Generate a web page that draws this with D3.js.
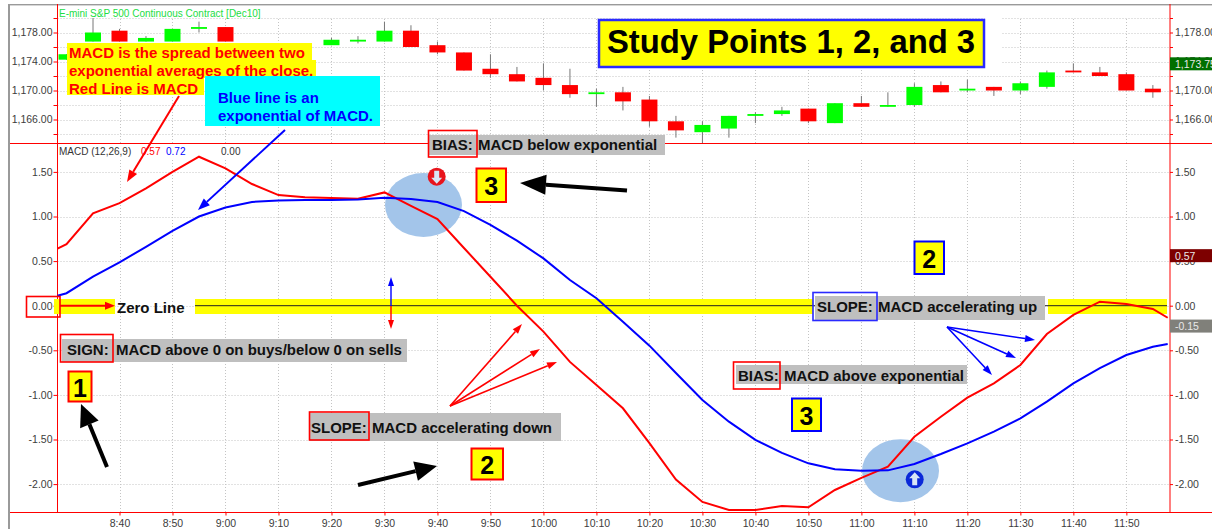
<!DOCTYPE html>
<html><head><meta charset="utf-8">
<style>html,body{margin:0;padding:0;background:#fff}svg{display:block}text{font-family:"Liberation Sans",Arial,sans-serif}</style>
<script src="https://cdn.jsdelivr.net/npm/d3@7/dist/d3.min.js"></script></head><body>
<svg id="c" width="1212" height="529"></svg>
<script>
// ---- data ----
const chartTitle = "E-mini S&P 500 Continuous Contract [Dec10]";
const candleTimes = ["8:30","8:35","8:40","8:45","8:50","8:55","9:00","9:20","9:25","9:30","9:35","9:40","9:45","9:50","9:55","10:00","10:05","10:10","10:15","10:20","10:25","10:30","10:35","10:40","10:45","10:50","10:55","11:00","11:05","11:10","11:15","11:20","11:25","11:30","11:35","11:40","11:45","11:50","11:55"];
const opens  = [1174.25,1176.75,1178.25,1176.75,1176.75,1178.5,1178.75,1176.25,1176.75,1176.75,1178.25,1176.25,1175.25,1173,1172.25,1171.75,1170.75,1169.5,1169.75,1168.75,1165.75,1164.25,1164.75,1166.5,1166.75,1167.5,1165.5,1168.25,1167.75,1168,1170.75,1170,1170.5,1170,1170.5,1172.75,1172.5,1172.25,1170.25];
const highs  = [1175,1180,1178.5,1177.5,1178.5,1179.5,1178.75,1177.25,1177.5,1179.5,1179,1176.75,1175.25,1175,1173.25,1173.75,1173,1170.25,1170.5,1169.25,1166.5,1165.75,1166.5,1167,1167.75,1167.5,1168.25,1169.25,1169.75,1171,1171.25,1171.5,1170.5,1171.25,1172.75,1173.75,1173.25,1172.5,1170.75];
const lows   = [1174.25,1176.75,1176.75,1176.75,1176.75,1178,1176.75,1176.25,1176.5,1176.75,1176,1175,1172.75,1171.75,1171.25,1170,1169,1167.75,1167.25,1165,1163.5,1162.75,1163.5,1165.5,1166.5,1165.5,1165.5,1167.75,1167.75,1167.75,1169.75,1169.75,1169.25,1169.5,1170.25,1172.5,1172,1170,1169];
const closes = [1175,1178,1176.75,1177.25,1178.5,1178.75,1176.75,1177,1177,1178.25,1176,1175.25,1172.75,1172.25,1171.25,1170.75,1169.5,1169.75,1168.5,1165.75,1164.5,1165.25,1166.5,1166.75,1167.25,1165.75,1168.25,1167.75,1168,1170.5,1169.75,1170.25,1170,1171,1172.5,1172.5,1172,1170,1169.75];
const macdTimes = ["8:28.3","8:30","8:35","8:40","8:45","8:50","8:55","9:00","9:05","9:10","9:15","9:20","9:25","9:30","9:35","9:40","9:45","9:50","9:55","10:00","10:05","10:10","10:15","10:20","10:25","10:30","10:35","10:40","10:45","10:50","10:55","11:00","11:05","11:10","11:15","11:20","11:25","11:30","11:35","11:40","11:45","11:50","11:55","11:57.8"];
const macdRed  = [0.64,0.69,1.035,1.15,1.316,1.5,1.67,1.54,1.364,1.24,1.215,1.207,1.2,1.27,1.118,0.97,0.647,0.325,0,-0.29,-0.63,-0.89,-1.15,-1.54,-1.95,-2.2,-2.29,-2.29,-2.245,-2.26,-2.066,-1.93,-1.805,-1.47,-1.245,-1.03,-0.87,-0.665,-0.317,-0.104,0.045,0.02,-0.037,-0.135];
const macdBlue = [0.112,0.14,0.325,0.486,0.66,0.84,1.0,1.10,1.163,1.18,1.185,1.185,1.19,1.21,1.196,1.163,1.06,0.905,0.73,0.53,0.288,0.083,-0.18,-0.448,-0.755,-1.057,-1.3,-1.505,-1.65,-1.767,-1.834,-1.85,-1.846,-1.775,-1.663,-1.543,-1.412,-1.263,-1.076,-0.87,-0.70,-0.553,-0.46,-0.43];
const priceTicks = [1180,1178,1176,1174,1172,1170,1168,1166,1164];
const priceLabels = [1178,1174,1170,1166];
const macdTicks = [1.5,1,0.5,0,-0.5,-1,-1.5,-2];
const timeTicks = ["8:40","8:50","9:00","9:10","9:20","9:30","9:40","9:50","10:00","10:10","10:20","10:30","10:40","10:50","11:00","11:10","11:20","11:30","11:40","11:50"];
const lastPrice = 1173.75, lastMacd = 0.57, lastHist = -0.15;

// ---- scales ----
const mins = s => { const [h,m] = s.split(":"); return +h*60 + +m; };
const x = d3.scaleLinear().domain([mins("8:28.3"),mins("11:57.8")]).range([57.5,1167.7]);
const yP = d3.scaleLinear().domain([1178,1166]).range([32.5,119.5]);
const yM = d3.scaleLinear().domain([1,-1]).range([216.5,394.9]);
const svg = d3.select("#c");
const RED="#ff0000",BLUE="#0000ff",YEL="#ffff00",GREY="#bfbfbf",GRN="#00ff00";
const L=57.5,R=1170,MID=143.5,BOT=512.5;

// frame
svg.append("rect").attr("x",8).attr("y",4).attr("width",1204).attr("height",1.4).attr("fill","#9a9a9a");
svg.append("rect").attr("x",8).attr("y",4).attr("width",2).attr("height",525).attr("fill","#9a9a9a");

// grid
const grid = svg.append("g").attr("stroke","#c4c4c4").attr("stroke-width",1).attr("stroke-dasharray","1 2");
priceTicks.forEach(p=>grid.append("line").attr("x1",L).attr("x2",R).attr("y1",Math.round(yP(p))+.5).attr("y2",Math.round(yP(p))+.5));
macdTicks.forEach(p=>grid.append("line").attr("x1",L).attr("x2",R).attr("y1",Math.round(yM(p))+.5).attr("y2",Math.round(yM(p))+.5));
timeTicks.forEach(t=>{const X=Math.round(x(mins(t)))+.5;
  grid.append("line").attr("x1",X).attr("x2",X).attr("y1",19).attr("y2",MID);
  grid.append("line").attr("x1",X).attr("x2",X).attr("y1",160).attr("y2",BOT);});
svg.append("rect").attr("x",985).attr("y",15).attr("width",16).attr("height",54).attr("fill","#fff");

// candles
const cw=16;
const cg=svg.append("g");
candleTimes.forEach((t,i)=>{
  const X=x(mins(t)), up=closes[i]>=opens[i];
  cg.append("line").attr("x1",X).attr("x2",X).attr("y1",yP(highs[i])).attr("y2",yP(lows[i])).attr("stroke","#777").attr("stroke-width",1);
  const x0=Math.max(X-cw/2,L);
  cg.append("rect").attr("x",x0).attr("width",X+cw/2-x0)
    .attr("y",yP(Math.max(opens[i],closes[i]))).attr("height",Math.max(1.6,Math.abs(yP(opens[i])-yP(closes[i]))))
    .attr("fill",up?GRN:RED);
});

// axes
const fmtM = d=>d3.format(".2f")(d).replace("\u2212","-");
const fmtP = d=>priceLabels.includes(d)?d3.format(",.2f")(d):"";
function styleAxis(g,col){g.select(".domain").remove();g.selectAll("line").attr("stroke",col||RED);
  g.selectAll("text").attr("fill","#3c3c3c").style("font-size","10.5px").style("font-family",'"Liberation Sans",Arial,sans-serif');}
svg.append("g").attr("transform",`translate(${L},0)`).call(d3.axisLeft(yP).tickValues(priceTicks).tickFormat(fmtP).tickSize(4).tickPadding(1)).call(styleAxis);
svg.append("g").attr("transform",`translate(${R},0)`).call(d3.axisRight(yP).tickValues(priceTicks).tickFormat(fmtP).tickSize(3).tickPadding(2)).call(styleAxis);
svg.append("g").attr("transform",`translate(${L},0)`).call(d3.axisLeft(yM).tickValues(macdTicks).tickFormat(fmtM).tickSize(4).tickPadding(1)).call(styleAxis);
svg.append("g").attr("transform",`translate(${R},0)`).call(d3.axisRight(yM).tickValues(macdTicks).tickFormat(fmtM).tickSize(3).tickPadding(2)).call(styleAxis);
svg.append("g").attr("transform",`translate(0,${BOT})`).call(d3.axisBottom(x).tickValues(timeTicks.map(mins)).tickFormat((d,i)=>timeTicks[i]).tickSize(3).tickPadding(4)).call(styleAxis);

// panel rules
[[L,4,L,BOT],[R,4,R,BOT],[10,MID,1212,MID],[10,BOT,1212,BOT]].forEach(a=>
  svg.append("line").attr("x1",a[0]).attr("y1",a[1]).attr("x2",a[2]).attr("y2",a[3]).attr("stroke",RED).attr("stroke-width",1));

// helpers
function txt(s,X,Y,o={}){return svg.append("text").attr("x",X).attr("y",Y).text(s).attr("fill",o.fill||"#111")
  .attr("font-size",o.size||15).attr("font-weight",o.weight||"bold").attr("text-anchor",o.anchor||"start").attr("dominant-baseline","central");}
function box(X0,Y0,X1,Y1,fill,stroke,sw){return svg.append("rect").attr("x",X0).attr("y",Y0).attr("width",X1-X0).attr("height",Y1-Y0)
  .attr("fill",fill||"none").attr("stroke",stroke||"none").attr("stroke-width",sw||0);}
function arrow(x1,y1,x2,y2,col,w,hl,hw){const a=Math.atan2(y2-y1,x2-x1),bx=x2-hl*Math.cos(a),by=y2-hl*Math.sin(a),nx=-Math.sin(a),ny=Math.cos(a);
  svg.append("line").attr("x1",x1).attr("y1",y1).attr("x2",bx).attr("y2",by).attr("stroke",col).attr("stroke-width",w);
  svg.append("polygon").attr("points",[[x2,y2],[bx+nx*hw,by+ny*hw],[bx-nx*hw,by-ny*hw]].join(" ")).attr("fill",col);}
function badge(s,X0,Y0,X1,Y1,col){box(X0,Y0,X1,Y1,YEL,col,2);txt(s,(X0+X1)/2,(Y0+Y1)/2+1,{size:25,anchor:"middle",fill:"#000"});}

// zero band, ellipses
[[54,115],[195,813],[1048,1167]].forEach(b=>box(b[0],299,b[1],314,YEL));
svg.append("line").attr("x1",195).attr("x2",1167).attr("y1",yM(0)).attr("y2",yM(0)).attr("stroke","#222").attr("stroke-width",1);
svg.append("ellipse").attr("cx",423.5).attr("cy",205).attr("rx",38.5).attr("ry",32).attr("fill","#a3c5ea");
svg.append("ellipse").attr("cx",900.5).attr("cy",470.7).attr("rx",38.5).attr("ry",31.5).attr("fill","#a3c5ea");

// MACD lines
const tm=macdTimes.map(mins);
const ln=v=>d3.line().x((d,i)=>x(tm[i])).y(d=>yM(d))(v);
svg.append("path").attr("d",ln(macdRed)).attr("fill","none").attr("stroke",RED).attr("stroke-width",2);
svg.append("path").attr("d",ln(macdBlue)).attr("fill","none").attr("stroke",BLUE).attr("stroke-width",2);

// status icons
function icon(cx,cy,col,dir){svg.append("circle").attr("cx",cx).attr("cy",cy).attr("r",9).attr("fill",col);
  const s=dir;svg.append("polygon").attr("fill","#d9e6f5").attr("points",[[cx,cy+7*s],[cx-5.5,cy+1*s],[cx-2.5,cy+1*s],[cx-2.5,cy-6*s],[cx+2.5,cy-6*s],[cx+2.5,cy+1*s],[cx+5.5,cy+1*s]].join(" "));}
icon(436.7,176.7,"#e8141c",1);
icon(914.7,479.3,"#0a28d8",-1);

// title & study label
txt(chartTitle,59,13,{fill:"#22dd44",size:10,weight:"normal"});
txt("MACD (12,26,9)",59,151,{fill:"#333",size:10,weight:"normal"});
txt("0.57",141,151,{fill:RED,size:10,weight:"normal"});
txt("0.72",166,151,{fill:BLUE,size:10,weight:"normal"});
txt("0.00",221,151,{fill:"#333",size:10,weight:"normal"});
box(599,20,984,67,YEL,"#2a2aff",2.5);
txt("Study Points 1, 2, and 3",791,41,{size:32.8,anchor:"middle",fill:"#000"});

// definitions
box(67,43,312,78,YEL);box(67,60,316,78,YEL);box(67,78,204,95,YEL);
txt("MACD is the spread between two",69,52,{fill:RED});
txt("exponential averages of the close.",69,70,{fill:RED});
txt("Red Line is MACD",69,88,{fill:RED});
box(205,76,380,126,"#00ffff");
txt("Blue line is an",218,97,{fill:BLUE});
txt("exponential of MACD.",218,115,{fill:BLUE});
arrow(179,96,127,182,RED,2,12,4.5);
arrow(285,130,198,210,BLUE,2,12,4.5);

// zero line markup
box(26.5,296.5,60,317,null,RED,1.6);
arrow(60,yM(0),115,yM(0),RED,2,10,4);
txt("Zero Line",117,307,{fill:"#111"});
arrow(391,306,391,277,BLUE,1.4,9,3);
arrow(391,306,391,329,RED,1.4,9,3);

// SIGN
box(62,339,407,362,GREY);box(60.5,334.5,113,362,null,RED,1.6);
txt("SIGN:",67,349.5);txt("MACD above 0 on buys/below 0 on sells",116,349.5);
badge("1",68.5,371.5,91.5,401.5,RED);
arrow(107,467,81,404,"#000",4,22,10);

// SLOPE down
box(310,413,561,441,GREY);box(309.5,412,369,440,null,RED,1.6);
txt("SLOPE:",311,427);txt("MACD accelerating down",372,427);
badge("2",471.5,448.5,503,479.5,RED);
arrow(358,485,437,466,"#000",4,22,10);
[[522,324],[540,349],[557,362]].forEach(p=>arrow(450,406,p[0],p[1],RED,1.6,10,3.5));

// BIAS below
box(428,135,665,155,GREY);box(428.5,130.5,477,157,null,RED,1.6);
txt("BIAS:",432,144.5);txt("MACD below exponential",478,144.5);
badge("3",476.5,168.5,506,202,RED);
arrow(627,190.5,520,183,"#000",4,26,10);

// BIAS above
box(736,365,967,384,GREY);box(733.5,362,780,389,null,RED,1.6);
txt("BIAS:",738,375);txt("MACD above exponential",784,375);
badge("3",792,398.5,821,431,BLUE);
badge("2",914.5,241.5,944,274,BLUE);

// SLOPE up
box(815,296,1045,320,GREY);box(813,292.5,877,320.5,null,"#2a2aff",1.6);
txt("SLOPE:",817,306);txt("MACD accelerating up",878,306);
[[1035,340],[1016,358],[992,375]].forEach(p=>arrow(947,327,p[0],p[1],BLUE,1.6,10,3.5));

// last-value flags
function flag(Y,col,s){box(R,Y-6.5,1212,Y+6.5,col);txt(s,R+5,Y,{fill:"#e8e8e8",size:10.5,weight:"normal"});}
flag(yP(lastPrice)+.5,"#006f00",d3.format(",.2f")(lastPrice));
flag(yM(lastMacd)+.8,"#7d0000",fmtM(lastMacd));
flag(yM(lastHist)+7,"#80807a",fmtM(lastHist));
</script></body></html>
